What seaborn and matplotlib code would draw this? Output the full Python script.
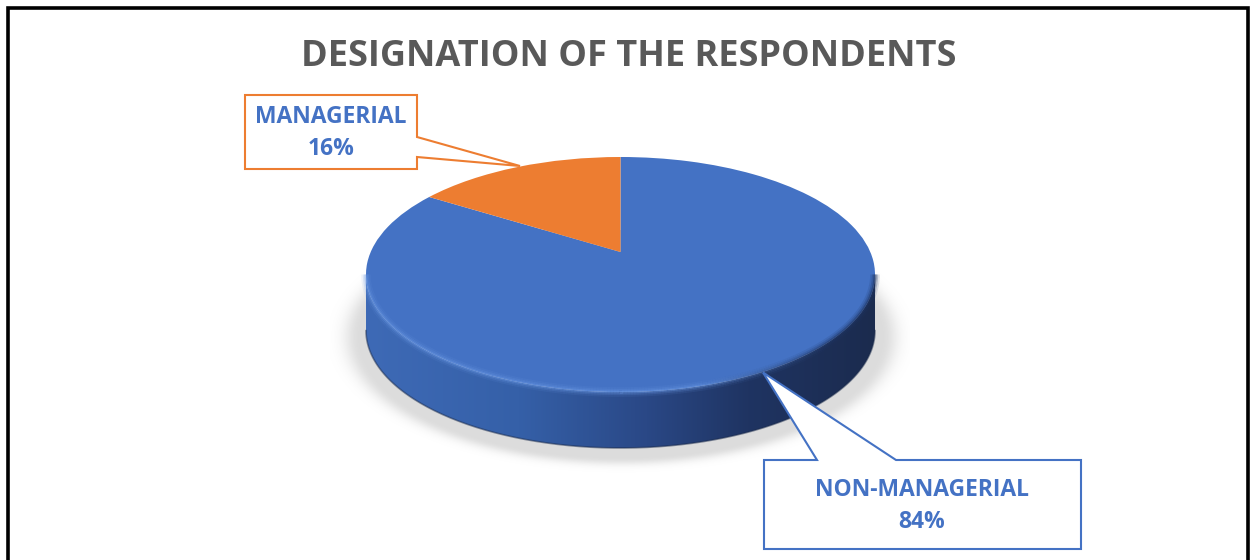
import numpy as np
import matplotlib
matplotlib.use("Agg")
import matplotlib.pyplot as plt
import seaborn as sns
from matplotlib.transforms import Transform
from matplotlib.patches import Polygon
from matplotlib.collections import LineCollection
from matplotlib.colors import LinearSegmentedColormap, to_rgb

# ---- data -------------------------------------------------------------
categories = ["NON-MANAGERIAL", "MANAGERIAL"]
shares = [84, 16]
chart_title = "DESIGNATION OF THE RESPONDENTS"

# ---- style ------------------------------------------------------------
sns.set_theme(style="white")
plt.rcParams["font.family"] = ["Open Sans", "DejaVu Sans"]

slice_colors = ["#4472C4", "#ED7D31"]
label_color = "#4472C4"
title_color = "#595959"

W, H = 1250, 560
fig = plt.figure(figsize=(W / 100, H / 100), dpi=100)
fig.patch.set_facecolor("white")
ax = fig.add_axes([0, 0, 1, 1])


class TiltedDisc(Transform):
    """Perspective view of the unit disc lying flat, seen from above-front."""
    input_dims = output_dims = 2
    is_separable = False
    has_inverse = False

    def __init__(self, cx, cy, a, s, k):
        super().__init__()
        self.cx, self.cy, self.a, self.s, self.k = cx, cy, a, s, k

    def transform_non_affine(self, values):
        v = np.asarray(values, dtype=float).reshape(-1, 2)
        d = 1.0 + self.k * v[:, 1]
        return np.column_stack([self.cx + self.a * v[:, 0] / d,
                                self.cy - self.s * v[:, 1] / d])


tilt = TiltedDisc(cx=620.5, cy=252.0, a=249.8, s=113.2, k=0.1915)
depth = 56.0

# ---- pie top (slices from the data) -----------------------------------
wedges, _ = ax.pie(shares, colors=slice_colors, startangle=90,
                   counterclock=False, radius=1, center=(0, 0),
                   wedgeprops=dict(linewidth=0, antialiased=True))
for w in wedges:
    w.set_transform(tilt + ax.transData)
    w.set_zorder(5)

ax.set_xlim(0, W)
ax.set_ylim(H, 0)
ax.set_aspect("auto")
ax.axis("off")

# ---- soft drop shadow under the disc -----------------------------------
gx = np.linspace(330, 910, 580)
gy = np.linspace(230, 490, 260)
XX, YY = np.meshgrid(gx, gy)
r = np.sqrt(((XX - 621) / 262.0) ** 2 + ((YY - 337.0) / 121.0) ** 2)
alpha = 0.30 * np.exp(-(np.clip(r - 1.0, 0, None) / 0.06) ** 2)
shadow = np.zeros(XX.shape + (4,))
shadow[..., :3] = 0.55
shadow[..., 3] = alpha
ax.imshow(shadow, extent=[gx[0], gx[-1], gy[-1], gy[0]], zorder=1,
          interpolation="bilinear", aspect="auto")

# ---- side wall of the disc --------------------------------------------
kk = tilt.k
th = np.linspace(np.pi + np.arcsin(kk), 2 * np.pi - np.arcsin(kk), 300)
rim = tilt.transform(np.column_stack([np.cos(th), np.sin(th)]))
low = rim + np.array([0.0, depth])
wall = np.vstack([rim, low[::-1]])
wall_patch = Polygon(wall, closed=True, facecolor="none", edgecolor="none",
                     transform=ax.transData)
ax.add_patch(wall_patch)

side_cmap = LinearSegmentedColormap.from_list(
    "side", [(0.0, "#3e6ab6"), (0.30, "#3560a8"), (0.55, "#2a4886"),
             (0.75, "#1f3462"), (1.0, "#1b2b4e")])
grad = np.tile(np.linspace(0, 1, 512), (2, 1))
x0, x1 = wall[:, 0].min(), wall[:, 0].max()
y0, y1 = wall[:, 1].min(), wall[:, 1].max()
side_img = ax.imshow(grad, cmap=side_cmap, extent=[x0, x1, y1, y0],
                     aspect="auto", zorder=3, interpolation="bilinear")
side_img.set_clip_path(wall_patch)

# bottom edge darkening of the wall
ax.plot(low[:, 0], low[:, 1], color="#1a2a4a", lw=1.2, alpha=0.5, zorder=4)

# ---- soft bevel along the front rim -----------------------------------
segs = np.stack([rim[:-1], rim[1:]], axis=1)
mx = segs[:, :, 0].mean(axis=1)
fade = np.clip((840 - mx) / 140.0, 0, 1)
for lw_, a_ in [(7.0, 0.10), (4.5, 0.18), (2.2, 0.35)]:
    hl = np.zeros((len(segs), 4))
    hl[:, :3] = to_rgb("#6d9be6")
    hl[:, 3] = a_ * fade
    ax.add_collection(LineCollection(segs, colors=hl, linewidths=lw_,
                                     zorder=6, capstyle="butt"))
    dk = np.zeros((len(segs), 4))
    dk[:, :3] = to_rgb("#1f3563")
    dk[:, 3] = a_ * 1.4 * (1 - fade)
    ax.add_collection(LineCollection(segs, colors=dk, linewidths=lw_,
                                     zorder=6, capstyle="butt"))

# ---- callout labels ----------------------------------------------------
lab_font = dict(fontsize=16.5, fontweight="bold", color=label_color,
                ha="center", va="center", zorder=9)

mgr_box = [(245, 95), (417, 95), (417, 137), (520, 166), (417, 157),
           (417, 169), (245, 169)]
ax.add_patch(Polygon(mgr_box, closed=True, facecolor="white",
                     edgecolor=slice_colors[1], lw=1.5, zorder=8,
                     joinstyle="miter"))
ax.text(331, 117, categories[1], **lab_font)
ax.text(331, 149, f"{shares[1]}%", **lab_font)

non_box = [(764, 460), (817, 460), (763, 372.5), (896, 460), (1081, 460),
           (1081, 549), (764, 549)]
ax.add_patch(Polygon(non_box, closed=True, facecolor="white",
                     edgecolor=slice_colors[0], lw=1.5, zorder=8,
                     joinstyle="miter"))
ax.text(922, 490, categories[0], **lab_font)
ax.text(922, 522, f"{shares[0]}%", **lab_font)

# ---- title -------------------------------------------------------------
ax.text(629, 57, chart_title, fontsize=26, fontweight="bold",
        color=title_color, ha="center", va="center", zorder=9)

# ---- outer frame -------------------------------------------------------
ax.plot([8, 8, 1248, 1248], [565, 8, 8, 565], color="black", lw=2.6,
        solid_joinstyle="miter", zorder=10, clip_on=False)

fig.savefig("out.png", dpi=100, facecolor="white")
